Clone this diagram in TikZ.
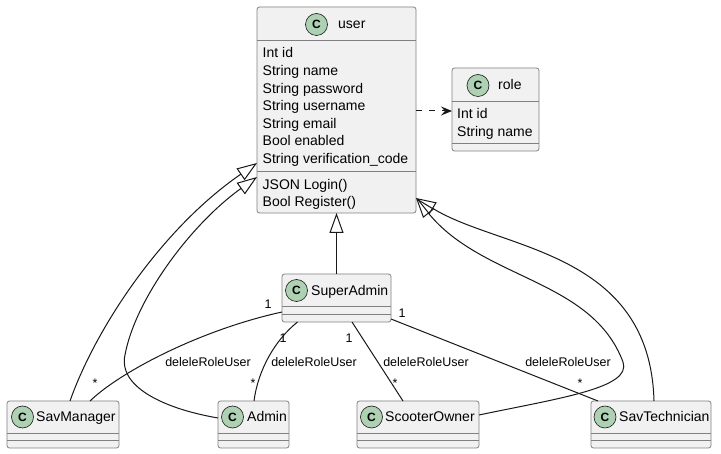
\documentclass[tikz,border=0pt]{standalone}
\usepackage{fontspec}
\setmainfont{Liberation Sans}
\usetikzlibrary{arrows.meta,calc}
\definecolor{boxfill}{HTML}{F1F1F1}
\definecolor{boxline}{HTML}{808080}
\definecolor{ink}{HTML}{181818}
\definecolor{badgefill}{HTML}{ADD1B2}
\begin{document}
\begin{tikzpicture}[x=1pt, y=-1pt,
  classbox/.style={draw=boxline, line width=0.8pt, fill=boxfill, rounded corners=2.5pt, inner sep=0pt, outer sep=0pt},
  divider/.style={draw=boxline, line width=0.8pt},
  badge/.style={circle, draw=ink, line width=0.6pt, fill=badgefill, minimum size=22pt, inner sep=0pt, font=\fontsize{12}{12}\selectfont\bfseries},
  title/.style={anchor=base west, inner sep=0pt, font=\fontsize{14}{16}\selectfont},
  member/.style={anchor=base west, inner sep=0pt, font=\fontsize{14}{16}\selectfont},
  link/.style={draw=ink, line width=1pt},
  extends/.style={link, -{Triangle[open, length=20pt, width=14pt]}},
  uses/.style={link, dash pattern=on 6pt off 7pt, -{Stealth[length=11pt, width=9pt, inset=4pt]}},
  lbl/.style={inner sep=0pt, font=\fontsize{12.5}{14}\selectfont},
]
\useasboundingbox (0,0) rectangle (721,454);
\fill[white] (0,0) rectangle (721,454);

% class boxes
\node[classbox, minimum width=159pt, minimum height=206pt] (user) at (336.5,110) {};
\node[classbox, minimum width=87pt, minimum height=83pt] (role) at (495.5,109.5) {};
\node[classbox, minimum width=109pt, minimum height=48pt] (SuperAdmin) at (336.5,298) {};
\node[classbox, minimum width=112pt, minimum height=47pt] (SavManager) at (63,424.5) {};
\node[classbox, minimum width=71pt, minimum height=47pt] (Admin) at (253.5,424.5) {};
\node[classbox, minimum width=122pt, minimum height=47pt] (ScooterOwner) at (418,424.5) {};
\node[classbox, minimum width=120pt, minimum height=47pt] (SavTechnician) at (651,424.5) {};

% compartment dividers
\draw[divider] ($(user.north west)+(0,33)$) -- ($(user.north east)+(0,33)$);
\draw[divider] ($(user.north west)+(0,164)$) -- ($(user.north east)+(0,164)$);
\draw[divider] ($(role.north west)+(0,33)$) -- ($(role.north east)+(0,33)$);
\draw[divider] ($(role.north west)+(0,75)$) -- ($(role.north east)+(0,75)$);
\draw[divider] ($(SuperAdmin.north west)+(0,32)$) -- ($(SuperAdmin.north east)+(0,32)$);
\draw[divider] ($(SuperAdmin.north west)+(0,40)$) -- ($(SuperAdmin.north east)+(0,40)$);
\foreach \c in {SavManager, Admin, ScooterOwner, SavTechnician} {
  \draw[divider] ($(\c.north west)+(0,32)$) -- ($(\c.north east)+(0,32)$);
  \draw[divider] ($(\c.north west)+(0,39)$) -- ($(\c.north east)+(0,39)$);
}

% class headers
\node[badge] (user-badge) at (316.5,24.5) {C};
\node[title] (user-title) at (338,29) {user};
\node[badge] (role-badge) at (478,85.5) {C};
\node[title] (role-title) at (498,90) {role};
\node[badge] (SuperAdmin-badge) at (296.5,290.5) {C};
\node[title] (SuperAdmin-title) at (311,296) {SuperAdmin};
\node[badge] (SavManager-badge) at (22.5,417) {C};
\node[title] (SavManager-title) at (36,422) {SavManager};
\node[badge] (Admin-badge) at (232.5,417) {C};
\node[title] (Admin-title) at (247,422) {Admin};
\node[badge] (ScooterOwner-badge) at (371.5,417) {C};
\node[title] (ScooterOwner-title) at (385,422) {ScooterOwner};
\node[badge] (SavTechnician-badge) at (605,417) {C};
\node[title] (SavTechnician-title) at (619,422) {SavTechnician};

% members of user
\foreach \t [count=\i] in {Int id, String name, String password, String username, String email, Bool enabled, String verification\_code}
  \node[member] (user-attr\i) at (262.5,{58+17.6*(\i-1)}) {\t};
\node[member] (user-op1) at (262.5,189.5) {JSON Login()};
\node[member] (user-op2) at (262.5,207) {Bool Register()};

% members of role
\node[member] (role-attr1) at (457,119) {Int id};
\node[member] (role-attr2) at (457,136.6) {String name};

% dependency
\draw[uses] ($(user.east)+(0,1)$) -- ($(role.west)+(0,1.5)$);

% generalisations
\coordinate (adminBend) at (125,355);
\coordinate (ownerBend) at (623,362);
\draw[extends] (SuperAdmin.north) -- (user.south);
\draw[extends] ($(SavManager.north)+(7,0)$) .. controls (95,330) and (160,230) .. ($(user.west)+(0,53)$);
\draw[extends] ($(Admin.west)+(0,-6.5)$) .. controls (160,408) and (118,385) .. (adminBend)
  .. controls (135,300) and (190,225) .. ($(user.west)+(0,67)$);
\draw[extends] ($(ScooterOwner.east)+(0,-9.5)$) .. controls (560,398) and (632,388) .. (ownerBend)
  .. controls (592,279) and (483,280) .. ($(user.east)+(0,88)$);
\draw[extends] ($(SavTechnician.north)+(3,0)$) .. controls (650,250) and (500,250) .. ($(user.east)+(0,88)$);

% associations
\draw[link] ($(SuperAdmin.west)+(0,14)$) .. controls (200,330) and (120,372) .. ($(SavManager.north)+(27,0)$);
\draw[link] ($(SuperAdmin.south)+(-39,0)$) .. controls (275,340) and (258,370) .. ($(Admin.north)+(0.5,0)$);
\draw[link] ($(SuperAdmin.south)+(15.5,0)$) -- ($(ScooterOwner.north)+(-15,0)$);
\draw[link] ($(SuperAdmin.south east)+(0,-3)$) -- ($(SavTechnician.north)+(-53,0)$);

% association labels
\node[lbl] (sm-one) at (268,304) {1};
\node[lbl] (sm-many) at (95,383) {*};
\node[lbl] (sm-name) at (208,362) {deleleRoleUser};
\node[lbl] (ad-one) at (283,338) {1};
\node[lbl] (ad-many) at (253,383) {*};
\node[lbl] (ad-name) at (314,362) {deleleRoleUser};
\node[lbl] (so-one) at (349,338) {1};
\node[lbl] (so-many) at (395,383) {*};
\node[lbl] (so-name) at (426,362) {deleleRoleUser};
\node[lbl] (st-one) at (402,313) {1};
\node[lbl] (st-many) at (580,383) {*};
\node[lbl] (st-name) at (568,362) {deleleRoleUser};
\end{tikzpicture}
\end{document}
